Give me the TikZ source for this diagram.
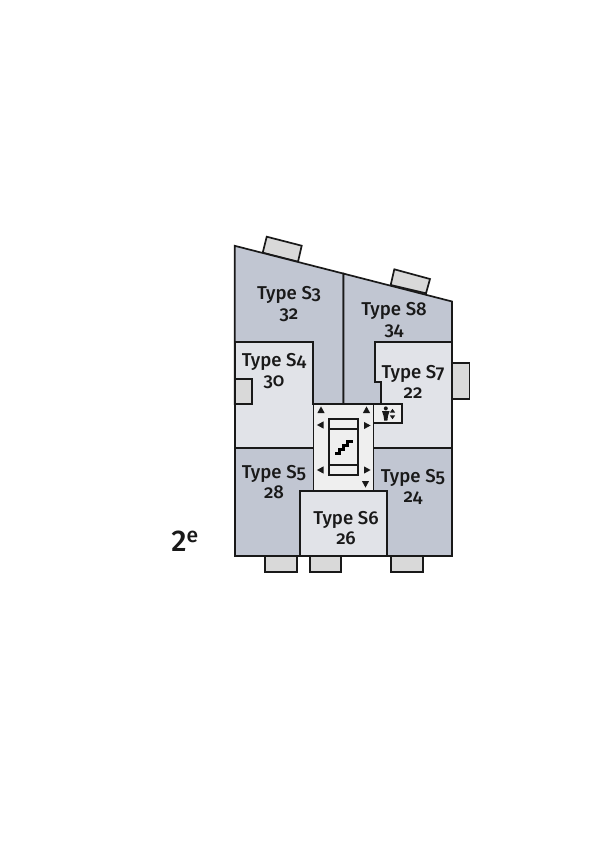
\documentclass[tikz,border=0pt]{standalone}
\usepackage{fontspec}
\setmainfont{Fira Sans Medium}[Numbers=OldStyle]
\usetikzlibrary{positioning}
\definecolor{darkunit}{HTML}{C1C6D2}
\definecolor{lightunit}{HTML}{E1E3E8}
\definecolor{balcony}{HTML}{D9D9D9}
\definecolor{corefill}{HTML}{EFEFEF}
\tikzstyle{wall} = [draw=black!90, line width=1.7pt, line join=miter]
\tikzstyle{darkroom} = [wall, fill=darkunit]
\tikzstyle{lightroom} = [wall, fill=lightunit]
\tikzstyle{balconybox} = [wall, fill=balcony]
\tikzstyle{roomlabel} = [align=center, inner sep=0pt, font=\fontsize{18.6}{20}\selectfont, text=black!90]
\begin{document}
\begin{tikzpicture}[x=1pt, y=-1pt]
	\useasboundingbox (0,0) rectangle (600,849);
	\fill[white] (0,0) rectangle (600,849);
	% balconies
	\draw[balconybox] (262.7,252.7) -- (266.7,236.7) -- (301.7,245.7) -- (298,261.7) -- cycle;
	\draw[balconybox] (390.7,285) -- (394.3,269.3) -- (430,279) -- (426,293.3) -- cycle;
	\draw[balconybox] (452,362.7) rectangle (469.5,399.3);
	\draw[balconybox] (265.3,556) rectangle (296.7,572.3);
	\draw[balconybox] (309.7,556) rectangle (341,572.3);
	\draw[balconybox] (391.3,556) rectangle (422.7,572.3);
	% dwellings
	\draw[darkroom] (234.7,245.8) -- (343.5,273.6) -- (343.5,404) -- (234.7,404) -- cycle;
	\draw[darkroom] (343.5,273.6) -- (452,301.5) -- (452,404) -- (343.5,404) -- cycle;
	\draw[darkroom] (234.7,447.7) rectangle (314,556);
	\draw[darkroom] (373.5,447.7) rectangle (452,556);
	\draw[lightroom] (234.7,341.7) -- (312.7,341.7) -- (312.7,404) -- (314,404) -- (314,447.7) -- (234.7,447.7) -- cycle;
	\draw[balconybox] (234.7,379) rectangle (251.7,404);
	\draw[lightroom] (375.3,341.7) -- (452,341.7) -- (452,447.7) -- (373.5,447.7) -- (373.5,404) -- (380.7,404) -- (380.7,381.7) -- (375.3,381.7) -- cycle;
	\draw[lightroom] (300,491.3) rectangle (387.3,556);
	% core
	\draw[wall, fill=corefill] (313.5,404) rectangle (373.5,491.3);
	\draw[wall, fill=corefill] (373.5,404) rectangle (402.3,423.3);
	\draw[wall, fill=corefill] (329,419.3) rectangle (357.7,475);
	\draw[wall] (329,429.3) -- (357.7,429.3);
	\draw[wall] (329,465) -- (357.7,465);
	% stair symbol
	\draw[line width=2.8pt, line join=miter] (335,453.8) -- (339.5,453.8) -- (339.5,449.6) -- (343.5,449.6) -- (343.5,445.4) -- (347.6,445.4) -- (347.6,441.6) -- (352.7,441.6);
	% lift arrows
	\foreach \xpos/\ypos/\dir in {321/410/90, 366.5/410/90, 320.5/425/180, 367/425.5/0, 320.5/470/180, 367/470/0, 365.5/484/270}
		\fill[black!90, shift={(\xpos,\ypos)}, rotate=\dir] (3.6,0) -- (-3,3.6) -- (-3,-3.6) -- cycle;
	% toilet symbol
	\fill[black!90] (385.8,408.4) circle (2);
	\fill[black!90] (382,411) -- (389.6,411) -- (388,416) -- (387.4,420.5) -- (384.2,420.5) -- (383.6,416) -- cycle;
	\fill[black!90] (392.5,408.8) -- (395.2,412.6) -- (389.8,412.6) -- cycle;
	\fill[black!90] (392.5,419.2) -- (395.2,415.4) -- (389.8,415.4) -- cycle;
	% labels
	\node[roomlabel] (s3) at (289,304) {Type S3\\32};
	\node[roomlabel] (s8) at (394,320) {Type S8\\34};
	\node[roomlabel] (s4) at (274,371) {Type S4\\30};
	\node[roomlabel] (s7) at (413,382) {Type S7\\22};
	\node[roomlabel] (s5a) at (274,482) {Type S5\\28};
	\node[roomlabel] (s5b) at (413,487) {Type S5\\24};
	\node[roomlabel] (s6) at (346,528) {Type S6\\26};
	\node[inner sep=0pt, font=\fontsize{30}{32}\selectfont\addfontfeatures{Numbers=Lining}, text=black!90] (floor) at (185,541) {2\textsuperscript{e}};
\end{tikzpicture}
\end{document}
